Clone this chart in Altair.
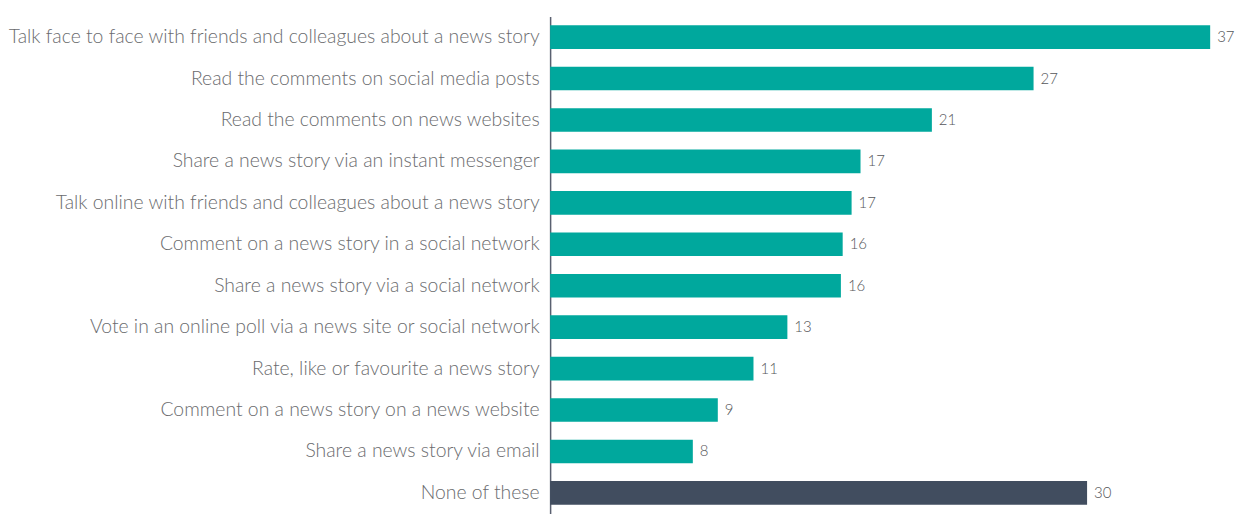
import altair as alt
import pandas as pd

categories = [
    "Talk face to face with friends and colleagues about a news story",
    "Read the comments on social media posts",
    "Read the comments on news websites",
    "Share a news story via an instant messenger",
    "Talk online with friends and colleagues about a news story",
    "Comment on a news story in a social network",
    "Share a news story via a social network",
    "Vote in an online poll via a news site or social network",
    "Rate, like or favourite a news story",
    "Comment on a news story on a news website",
    "Share a news story via email",
    "None of these",
]
values = [37.0, 27.1, 21.4, 17.4, 16.9, 16.4, 16.3, 13.3, 11.4, 9.4, 8.0, 30.1]
groups = ["activity"] * 11 + ["none"]

df = pd.DataFrame({"category": categories, "value": values, "group": groups})

base = alt.Chart(df).encode(
    y=alt.Y(
        "category:N",
        sort=categories,
        title=None,
        scale=alt.Scale(paddingInner=0.43, paddingOuter=0.215),
        axis=alt.Axis(
            ticks=False,
            labelFont="Lato",
            labelFontSize=19.4,
            labelFontWeight=300,
            labelColor="#6a6b6e",
            labelPadding=11,
            labelLimit=600,
            domainColor="#5a6070",
            domainWidth=1.5,
            minExtent=543,
            maxExtent=543,
        ),
    ),
    x=alt.X("value:Q", title=None, scale=alt.Scale(domain=[0, 38], nice=False), axis=None),
)

bars = base.mark_bar().encode(
    color=alt.Color(
        "group:N",
        scale=alt.Scale(domain=["activity", "none"], range=["#00a89d", "#414d5f"]),
        legend=None,
    )
)

labels = base.mark_text(
    align="left", baseline="middle", dx=7, font="Lato", fontSize=15, fontWeight=300,
    color="#55565a"
).encode(text=alt.Text("value:Q", format=".0f"))

chart = (
    (bars + labels)
    .properties(
        width=679,
        height=498,
        autosize=alt.AutoSizeParams(type="none"),
        padding={"left": 543, "top": 8, "right": 7, "bottom": 0},
    )
    .configure_view(stroke=None)
)

chart.save("out.html", embed_options={"renderer": "svg", "actions": False})
